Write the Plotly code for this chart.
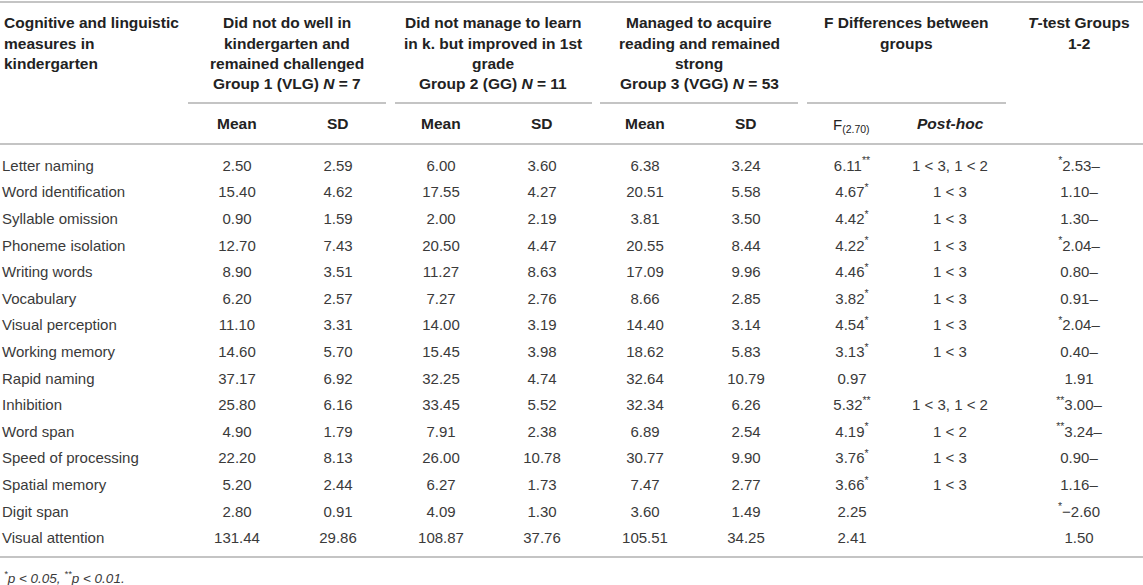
import plotly.graph_objects as go

# --- table content -------------------------------------------------------
measures = [
    "Letter naming", "Word identification", "Syllable omission",
    "Phoneme isolation", "Writing words", "Vocabulary", "Visual perception",
    "Working memory", "Rapid naming", "Inhibition", "Word span",
    "Speed of processing", "Spatial memory", "Digit span", "Visual attention",
]
g1_mean = [2.50, 15.40, 0.90, 12.70, 8.90, 6.20, 11.10, 14.60, 37.17, 25.80, 4.90, 22.20, 5.20, 2.80, 131.44]
g1_sd = [2.59, 4.62, 1.59, 7.43, 3.51, 2.57, 3.31, 5.70, 6.92, 6.16, 1.79, 8.13, 2.44, 0.91, 29.86]
g2_mean = [6.00, 17.55, 2.00, 20.50, 11.27, 7.27, 14.00, 15.45, 32.25, 33.45, 7.91, 26.00, 6.27, 4.09, 108.87]
g2_sd = [3.60, 4.27, 2.19, 4.47, 8.63, 2.76, 3.19, 3.98, 4.74, 5.52, 2.38, 10.78, 1.73, 1.30, 37.76]
g3_mean = [6.38, 20.51, 3.81, 20.55, 17.09, 8.66, 14.40, 18.62, 32.64, 32.34, 6.89, 30.77, 7.47, 3.60, 105.51]
g3_sd = [3.24, 5.58, 3.50, 8.44, 9.96, 2.85, 3.14, 5.83, 10.79, 6.26, 2.54, 9.90, 2.77, 1.49, 34.25]
f_stat = [6.11, 4.67, 4.42, 4.22, 4.46, 3.82, 4.54, 3.13, 0.97, 5.32, 4.19, 3.76, 3.66, 2.25, 2.41]
f_sig = ["**", "*", "*", "*", "*", "*", "*", "*", "", "**", "*", "*", "*", "", ""]
posthoc = ["1 < 3, 1 < 2", "1 < 3", "1 < 3", "1 < 3", "1 < 3", "1 < 3", "1 < 3",
           "1 < 3", "", "1 < 3, 1 < 2", "1 < 2", "1 < 3", "1 < 3", "", ""]
t_sig = ["*", "", "", "*", "", "", "*", "", "", "**", "**", "", "", "*", ""]
t_text = ["2.53–", "1.10–", "1.30–", "2.04–", "0.80–", "0.91–", "2.04–", "0.40–",
          "1.91", "3.00–", "3.24–", "0.90–", "1.16–", "−2.60", "1.50"]

# --- layout constants (pixel-like coordinates) ---------------------------
W, H = 1143, 585
ROW0, ROW_H = 167, 26.6
FONT = "Liberation Sans, Arial, Helvetica, sans-serif"
DATA_COLOR = "#3a3a3a"
HEAD_COLOR = "#222222"
LINE_COLOR = "#c4c4c4"
FS = 15
HFS = 15.5

row_y = [ROW0 + i * ROW_H for i in range(len(measures))]

fig = go.Figure()


def text_col(x, labels, pos="middle center"):
    fig.add_trace(go.Scatter(
        x=[x] * len(labels), y=row_y, text=labels, mode="text",
        textposition=pos, hoverinfo="skip", showlegend=False,
        textfont=dict(family=FONT, size=FS, color=DATA_COLOR),
    ))


text_col(2, measures, "middle right")
text_col(237, [f"{v:.2f}" for v in g1_mean])
text_col(338, [f"{v:.2f}" for v in g1_sd])
text_col(441, [f"{v:.2f}" for v in g2_mean])
text_col(542, [f"{v:.2f}" for v in g2_sd])
text_col(645, [f"{v:.2f}" for v in g3_mean])
text_col(746, [f"{v:.2f}" for v in g3_sd])
text_col(852, [f"{v:.2f}" + (f"<sup>{s}</sup>" if s else "") for v, s in zip(f_stat, f_sig)])
text_col(950, posthoc)
text_col(1079, [(f"<sup>{s}</sup>" if s else "") + t for t, s in zip(t_text, t_sig)])

# --- headers -------------------------------------------------------------
annots = []


def head(x, y, txt, anchor="center", size=HFS, color=HEAD_COLOR, bold=True):
    annots.append(dict(
        x=x, y=y, xref="x", yref="y", text=f"<b>{txt}</b>" if bold else txt,
        showarrow=False, xanchor=anchor, yanchor="middle",
        font=dict(family=FONT, size=size, color=color),
    ))


header_y = [22, 43, 63, 83]
for y, t in zip(header_y, ["Cognitive and linguistic", "measures in", "kindergarten"]):
    head(2, y, t, anchor="left")
for y, t in zip(header_y, ["Did not do well in", "kindergarten and",
                           "remained challenged", "Group 1 (VLG) <i>N</i> = 7"]):
    head(287, y, t)
for y, t in zip(header_y, ["Did not manage to learn", "in k. but improved in 1st",
                           "grade", "Group 2 (GG) <i>N</i> = 11"]):
    head(493, y, t)
for y, t in zip(header_y, ["Managed to acquire", "reading and remained",
                           "strong", "Group 3 (VGG) <i>N</i> = 53"]):
    head(699, y, t)
for y, t in zip(header_y, ["F Differences between", "groups"]):
    head(906, y, t)
for y, t in zip(header_y, ["<i>T</i>-test Groups", "1-2"]):
    head(1079, y, t)

for x, t in [(237, "Mean"), (338, "SD"), (441, "Mean"), (542, "SD"),
             (645, "Mean"), (746, "SD"), (950, "<i>Post-hoc</i>")]:
    head(x, 123, t)
head(851, 125, "F<sub>(2.70)</sub>", size=FS, bold=False)

annots.append(dict(
    x=2, y=577, xref="x", yref="y", xanchor="left", yanchor="middle",
    text="<i><sup>*</sup>p < 0.05, <sup>**</sup>p < 0.01.</i>", showarrow=False,
    font=dict(family=FONT, size=13.5, color=DATA_COLOR),
))

# --- rules ---------------------------------------------------------------
shapes = []
for y in [2, 144, 557]:
    shapes.append(dict(type="line", xref="x", yref="y", x0=0, x1=W, y0=y, y1=y,
                       line=dict(color=LINE_COLOR, width=2)))
for x0, x1 in [(188, 386), (395, 592), (600, 798), (807, 1006)]:
    shapes.append(dict(type="line", xref="x", yref="y", x0=x0, x1=x1, y0=103, y1=103,
                       line=dict(color=LINE_COLOR, width=2)))

fig.update_layout(
    width=W, height=H,
    margin=dict(l=0, r=0, t=0, b=0),
    paper_bgcolor="white", plot_bgcolor="white",
    xaxis=dict(range=[0, W], visible=False, fixedrange=True),
    yaxis=dict(range=[H, 0], visible=False, fixedrange=True),
    annotations=annots, shapes=shapes,
)
# page has a default 8px body margin; drop it so the figure sits at 0,0
fig.write_html("out.html", config={"displayModeBar": False},
               post_script="document.body.style.margin='0';")
